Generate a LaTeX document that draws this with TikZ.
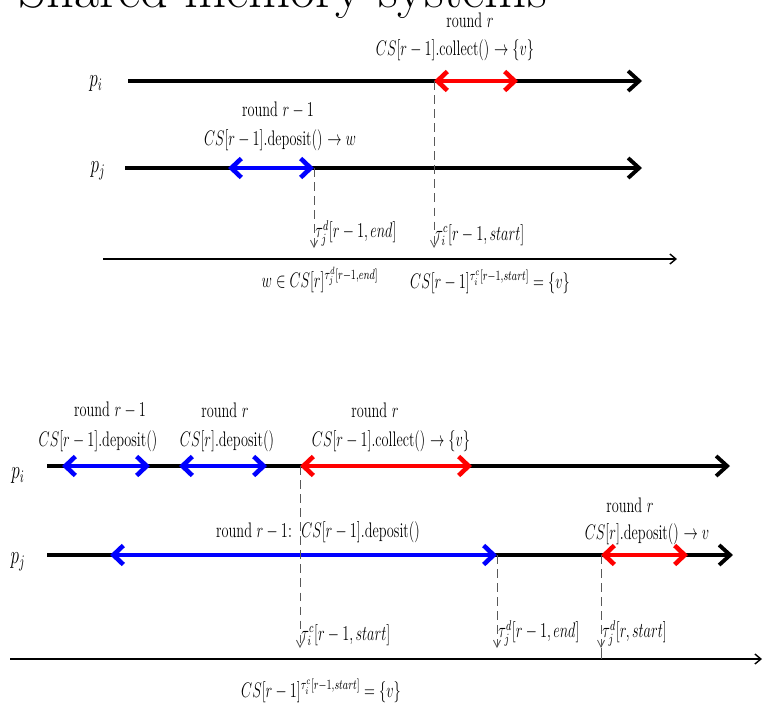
\documentclass[tikz,border=0pt]{standalone}
\usepackage{amsmath,amssymb}
\usepackage{tikz}
\usetikzlibrary{arrows.meta,positioning}
\definecolor{collectred}{RGB}{255,0,0}
\definecolor{depositblue}{RGB}{0,0,255}

\tikzset{
  proc/.style={line width=2.2pt,-{Straight Barb[length=0.22cm,width=0.4cm]}},
  opline/.style={line width=2.6pt,
    {Straight Barb[length=0.2cm,width=0.38cm]}-{Straight Barb[length=0.2cm,width=0.38cm]}},
  lbl/.style={font=\large,xscale=0.68,inner sep=1pt},
  plbl/.style={lbl,font=\Large},
  guide/.style={black!65,line width=0.5pt,dash pattern=on 5pt off 3pt,
    -{Straight Barb[length=0.14cm,width=0.14cm]}},
  taxis/.style={line width=0.8pt,-{Straight Barb[length=0.12cm,width=0.2cm]}}
}

\begin{document}
\begin{tikzpicture}[x=0.02cm,y=-0.02cm]
  \useasboundingbox (0,0) rectangle (764,711);
  \node[anchor=base west,inner sep=0pt,font=\fontsize{31}{36}\selectfont] (title) at (18,7) {Shared memory systems};

  % upper run: p_j deposits, then p_i collects
  \coordinate (ui0) at (128,81);  \coordinate (ui1) at (642,81);
  \coordinate (uj0) at (125,168); \coordinate (uj1) at (642,168);
  \draw[proc] (ui0) -- (ui1);
  \draw[proc] (uj0) -- (uj1);
  \node[plbl] (uilab) at (96,84) {$p_i$};
  \node[plbl] (ujlab) at (98,171) {$p_j$};

  \coordinate (ucs) at (434,81); \coordinate (uce) at (518,81);
  \draw[opline,collectred] (ucs) -- (uce);
  \node[lbl] (ucrd) at (470,20) {round $r$};
  \node[lbl] (ucop) at (455,50) {$CS[r-1]$.collect() $\rightarrow \{v\}$};

  \coordinate (uds) at (228,168); \coordinate (ude) at (314,168);
  \draw[opline,depositblue] (uds) -- (ude);
  \node[lbl] (udrd) at (278,110) {round $r-1$};
  \node[lbl] (udop) at (280,140) {$CS[r-1]$.deposit() $\rightarrow w$};

  \coordinate (udt) at (314,248); \coordinate (uct) at (434,248);
  \draw[guide] (ude) -- (udt);
  \draw[guide] (ucs) -- (uct);
  \node[lbl,anchor=south west] (udtau) at (udt) {$\tau_j^d[r-1, end]$};
  \node[lbl,anchor=south west] (uctau) at (uct) {$\tau_i^c[r-1, start]$};

  \coordinate (ua0) at (103,259); \coordinate (ua1) at (677,259);
  \draw[taxis] (ua0) -- (ua1);
  \node[lbl] (uw) at (320,280) {$w \in CS[r]^{\tau_j^d[r-1,end]}$};
  \node[lbl] (uv) at (490,282) {$CS[r-1]^{\tau_i^c[r-1,start]} = \{v\}$};

  % lower run: the deposit of p_j is still going on
  \coordinate (li0) at (47,466); \coordinate (li1) at (730,466);
  \coordinate (lj0) at (47,555); \coordinate (lj1) at (733,555);
  \draw[proc] (li0) -- (li1);
  \draw[proc] (lj0) -- (lj1);
  \node[plbl] (lilab) at (18,476) {$p_i$};
  \node[plbl] (ljlab) at (18,562) {$p_j$};

  \coordinate (ld1s) at (62,466);  \coordinate (ld1e) at (150,466);
  \coordinate (ld2s) at (179,466); \coordinate (ld2e) at (267,466);
  \coordinate (lcs) at (300,466);  \coordinate (lce) at (472,466);
  \draw[opline,depositblue] (ld1s) -- (ld1e);
  \draw[opline,depositblue] (ld2s) -- (ld2e);
  \draw[opline,collectred] (lcs) -- (lce);
  \node[lbl] (ld1rd) at (110,410) {round $r-1$};
  \node[lbl] (ld1op) at (98,441) {$CS[r-1]$.deposit()};
  \node[lbl] (ld2rd) at (225,410) {round $r$};
  \node[lbl] (ld2op) at (227,441) {$CS[r]$.deposit()};
  \node[lbl] (lcrd) at (375,410) {round $r$};
  \node[lbl] (lcop) at (391,441) {$CS[r-1]$.collect() $\rightarrow \{v\}$};

  \coordinate (ljds) at (110,555); \coordinate (ljde) at (497,555);
  \coordinate (ljrs) at (601,555); \coordinate (ljre) at (688,555);
  \draw[opline,depositblue] (ljds) -- (ljde);
  \draw[opline,collectred] (ljrs) -- (ljre);
  \node[lbl] (ljdop) at (318,532) {round $r-1$:\ \ $CS[r-1]$.deposit()};
  \node[lbl] (ljrrd) at (630,505) {round $r$};
  \node[lbl] (ljrop) at (647,534) {$CS[r]$.deposit() $\rightarrow v$};

  \coordinate (lct) at (300,648); \coordinate (ldt) at (497,648);
  \coordinate (lrt) at (601,648);
  \draw[guide] (lcs) -- (lct);
  \draw[guide] (ljde) -- (ldt);
  \draw[guide] (ljrs) -- (lrt);
  \node[lbl,anchor=south west] (lctau) at (lct) {$\tau_i^c[r-1, start]$};
  \node[lbl,anchor=south west] (ldtau) at (ldt) {$\tau_j^d[r-1, end]$};
  \node[lbl,anchor=south west] (lrtau) at (lrt) {$\tau_j^d[r, start]$};

  \coordinate (la0) at (10,659); \coordinate (la1) at (762,659);
  \draw[taxis] (la0) -- (la1);
  \draw[black!65,line width=0.5pt] (lrt) -- (lrt |- la1);
  \node[lbl] (lv) at (321,691) {$CS[r-1]^{\tau_i^c[r-1,start]} = \{v\}$};
\end{tikzpicture}
\end{document}
